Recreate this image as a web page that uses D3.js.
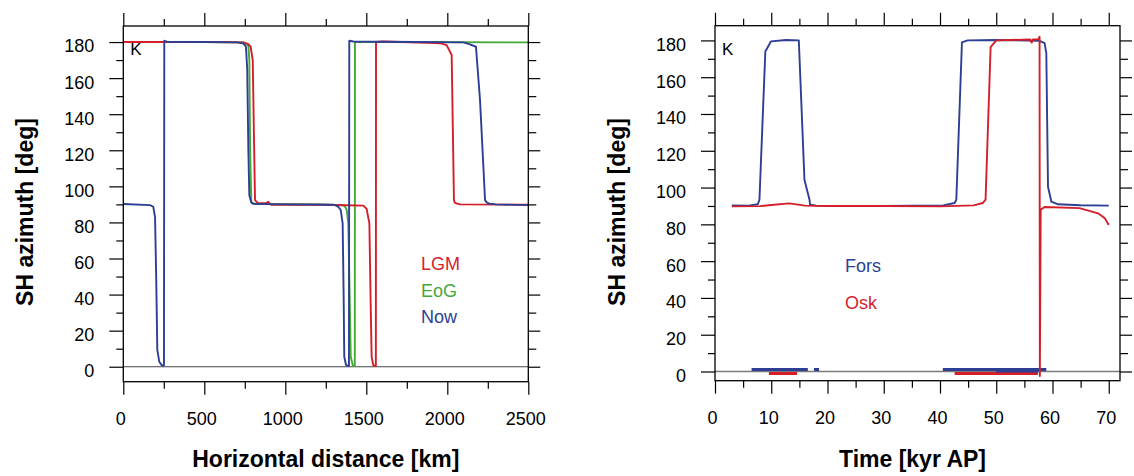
<!DOCTYPE html>
<html>
<head>
<meta charset="utf-8">
<script src="https://cdn.jsdelivr.net/npm/d3@7"></script>
<style>
	body { margin: 0; background: #fff; }
	svg { display: block; font-family: "Liberation Sans", Arial, sans-serif; }
</style>
</head>
<body>
<div id="svg-container"></div>
<script>

// DATA : left panel (horizontal distance)
const distTicks = [0, 500, 1000, 1500, 2000, 2500];
const distMinor = [250, 750, 1250, 1750, 2250];
const azTicks = [0, 20, 40, 60, 80, 100, 120, 140, 160, 180];
const azMinor = [10, 30, 50, 70, 90, 110, 130, 150, 170];

const lgmKm = [0, 500, 740, 770, 786, 799, 806, 813, 833, 880, 895, 905, 916, 1200, 1379, 1482, 1502, 1519, 1526, 1533, 1543, 1556, 1559, 1560, 1600, 1880, 1960, 1996, 2027, 2041, 2046, 2060, 2080, 2500];
const lgmDeg = [180, 180, 179.8, 179, 177.4, 170, 131, 92.4, 90.6, 90.6, 91.5, 90.2, 89.8, 89.8, 89.5, 89.3, 87.5, 79.5, 40, 5.5, 0.9, 0.4, 0.5, 180, 180.3, 179.6, 179.3, 178.3, 172.8, 92.4, 91, 90.4, 90, 89.8];

const eogKm = [0, 500, 740, 772, 778, 783, 790, 795, 820, 1200, 1360, 1369, 1379, 1389, 1397, 1404, 1416, 1426, 1429, 1430, 1700, 2500];
const eogDeg = [180, 180, 179.8, 178, 170, 120, 92, 90.8, 90.2, 90, 89.5, 88.7, 87, 79.5, 40, 5.5, 0.9, 0.4, 0.5, 180, 180, 179.8];

const nowKm = [0, 165, 185, 196, 203, 210, 222, 237, 247, 251, 253, 270, 500, 700, 740, 757, 765, 772, 778, 790, 800, 1000, 1300, 1327, 1342, 1354, 1360, 1364, 1375, 1389, 1393, 1395, 1420, 1800, 2100, 2140, 2177, 2202, 2233, 2245, 2260, 2300, 2500];
const nowDeg = [90.2, 89.6, 88.7, 82.9, 50, 9.3, 2.8, 0.9, 0.5, 0.8, 180.7, 180.2, 180, 179.8, 179.3, 177.4, 165, 120, 95, 91, 90.3, 90, 89.8, 88.7, 86.9, 79.5, 40, 5.5, 0.9, 0.4, 0.6, 180.7, 180.3, 180, 179.8, 178.7, 177.4, 147.8, 92.4, 91, 90.4, 90, 89.6];

const leftLabels = ["LGM", "EoG", "Now"];


// DATA : right panel (time)
const timeTicks = [0, 10, 20, 30, 40, 50, 60, 70];
const timeMinor = [5, 15, 25, 35, 45, 55, 65];

const forsKyr = [3, 6, 7.6, 7.9, 8.95, 9.96, 12.6, 14.9, 15.9, 16.8, 16.9, 18, 30, 40.6, 42.6, 42.9, 43.9, 44.9, 50, 57.7, 58.6, 58.9, 59.2, 59.8, 61, 65, 70];
const forsDeg = [90.3, 90.2, 90.9, 93.4, 174, 179.5, 180.2, 180, 104.3, 93.4, 90.7, 90.2, 90, 90.3, 91.6, 93.4, 178.9, 180, 180.2, 179.8, 178.5, 173, 100.4, 92.3, 90.9, 90.4, 90.2];

const oskKyr = [3, 8, 10, 13.2, 16, 20, 30, 40, 46, 47.6, 48.1, 49, 50, 56, 56.3, 56.5, 57.5, 57.7, 57.75, 57.9, 58.6, 64.8, 68.1, 69.3, 70];
const oskDeg = [89.8, 89.9, 90.5, 91.4, 90.2, 90, 90, 89.8, 90.3, 91.6, 93.4, 176.4, 180, 180.5, 178.8, 180.5, 180.7, 182, -2.5, 88, 89.4, 88.8, 86, 83.3, 79.7];

// periods near zero (start, end, level in deg)
const forsBarStart = [6.5, 17.6, 40.5, 50];
const forsBarEnd = [16.5, 18.5, 58.9, 57.5];
const forsBarLevel = [1.1, 1.1, 1.1, 0.3];
const oskBarStart = [9.6, 42.6, 50];
const oskBarEnd = [14.6, 57.4, 57];
const oskBarLevel = [-1.1, -1.1, -0.5];

const rightLabels = ["Fors", "Osk"];


// colours
const RED = "#d41f2b";
const GREEN = "#45a93a";
const BLUE = "#2c3f94";


// svg
const W = 1134;
const H = 476;
const svg = d3.select("#svg-container")
	.append("svg")
	.attr("width", W)
	.attr("height", H);
svg.append("rect").attr("width", W).attr("height", H).attr("fill", "#fff");


// PANEL
function drawPanel(p) {
	const x = d3.scaleLinear().domain(p.xDomain).range([p.x0, p.x1]);
	const y = d3.scaleLinear().domain(p.yDomain).range([p.y1, p.y0]);
	const g = svg.append("g");

	// zero line
	g.append("line")
		.attr("x1", p.x0).attr("x2", p.x1)
		.attr("y1", y(0)).attr("y2", y(0))
		.attr("stroke", p.zeroColor)
		.attr("stroke-width", p.zeroWidth);

	// axes (ticks outside on all four sides)
	const styleAxis = a => {
		a.select(".domain").remove();
		a.selectAll(".tick line").attr("stroke", "#000").attr("stroke-width", 1.2);
	};
	const noLabel = () => "";

	// bottom
	g.append("g")
		.attr("transform", `translate(0, ${p.y1})`)
		.call(d3.axisBottom(x).tickValues(p.xTicks).tickSize(13).tickFormat(d3.format("d")))
		.call(styleAxis)
		.call(a => a.selectAll(".tick text")
			.attr("y", 43.5).attr("dy", 0).attr("x", -3)
			.attr("fill", "#000").style("font-size", "18px")
			.style("font-family", "'Liberation Sans', Arial, sans-serif"));
	g.append("g")
		.attr("transform", `translate(0, ${p.y1})`)
		.call(d3.axisBottom(x).tickValues(p.xMinor).tickSize(7).tickFormat(noLabel))
		.call(styleAxis);
	// top
	g.append("g")
		.attr("transform", `translate(0, ${p.y0})`)
		.call(d3.axisTop(x).tickValues(p.xTicks).tickSize(13).tickFormat(noLabel))
		.call(styleAxis);
	g.append("g")
		.attr("transform", `translate(0, ${p.y0})`)
		.call(d3.axisTop(x).tickValues(p.xMinor).tickSize(7).tickFormat(noLabel))
		.call(styleAxis);
	// left
	g.append("g")
		.attr("transform", `translate(${p.x0}, 0)`)
		.call(d3.axisLeft(y).tickValues(azTicks).tickSize(14).tickFormat(d3.format("d")))
		.call(styleAxis)
		.call(a => a.selectAll(".tick text")
			.attr("x", -29).attr("dy", "0.55em")
			.attr("fill", "#000").style("font-size", "18px")
			.style("font-family", "'Liberation Sans', Arial, sans-serif"));
	g.append("g")
		.attr("transform", `translate(${p.x0}, 0)`)
		.call(d3.axisLeft(y).tickValues(azMinor).tickSize(7).tickFormat(noLabel))
		.call(styleAxis);
	// right
	g.append("g")
		.attr("transform", `translate(${p.x1}, 0)`)
		.call(d3.axisRight(y).tickValues(azTicks).tickSize(12).tickFormat(noLabel))
		.call(styleAxis);
	g.append("g")
		.attr("transform", `translate(${p.x1}, 0)`)
		.call(d3.axisRight(y).tickValues(azMinor).tickSize(8).tickFormat(noLabel))
		.call(styleAxis);

	// bars near zero
	const line = d3.line().x(d => x(d[0])).y(d => y(d[1]));
	p.bars.forEach(b => {
		g.selectAll(null)
			.data(d3.zip(b.start, b.end, b.level))
			.enter()
			.append("line")
			.attr("x1", d => x(d[0])).attr("x2", d => x(d[1]))
			.attr("y1", d => y(d[2])).attr("y2", d => y(d[2]))
			.attr("stroke", b.color)
			.attr("stroke-width", 3);
	});

	// series
	p.series.forEach(s => {
		g.append("path")
			.datum(d3.zip(s.xs, s.ys))
			.attr("d", line)
			.attr("fill", "none")
			.attr("stroke", s.color)
			.attr("stroke-width", 1.9)
			.attr("stroke-linejoin", "round");
	});

	// frame
	g.append("rect")
		.attr("x", p.x0).attr("y", p.y0)
		.attr("width", p.x1 - p.x0).attr("height", p.y1 - p.y0)
		.attr("fill", "none")
		.attr("stroke", "#000")
		.attr("stroke-width", 1.3);

	// panel letter
	g.append("text")
		.text("K")
		.attr("x", p.x0 + 7).attr("y", 55)
		.style("font-size", "17px");

	// legend
	g.selectAll(null)
		.data(p.legend)
		.enter()
		.append("text")
		.text(d => d.text)
		.attr("x", p.legendX)
		.attr("y", d => d.y)
		.attr("fill", d => d.color)
		.style("font-size", "18px");

	// axis titles
	g.append("text")
		.text(p.xTitle)
		.attr("x", (p.x0 + p.x1) / 2 + p.xTitleShift)
		.attr("y", 467)
		.attr("text-anchor", "middle")
		.style("font-size", "23px")
		.style("font-weight", "bold");
	g.append("text")
		.text("SH azimuth [deg]")
		.attr("text-anchor", "middle")
		.attr("transform", `translate(${p.x0 - 90}, 212) rotate(-90)`)
		.style("font-size", "23px")
		.style("font-weight", "bold");
}


// left panel
drawPanel({
	x0: 123.3, x1: 528.3, y0: 26, y1: 381.7,
	xDomain: [0, 2500], yDomain: [-8.3, 188.9],
	xTicks: distTicks, xMinor: distMinor,
	zeroColor: "#444", zeroWidth: 1.2,
	bars: [],
	series: [
		{ xs: eogKm, ys: eogDeg, color: GREEN },
		{ xs: lgmKm, ys: lgmDeg, color: RED },
		{ xs: nowKm, ys: nowDeg, color: BLUE }
	],
	legendX: 421,
	legend: [
		{ text: leftLabels[0], y: 270, color: RED },
		{ text: leftLabels[1], y: 296.5, color: GREEN },
		{ text: leftLabels[2], y: 323, color: BLUE }
	],
	xTitle: "Horizontal distance [km]", xTitleShift: 0
});

// right panel
drawPanel({
	x0: 715, x1: 1120, y0: 25.7, y1: 380.7,
	xDomain: [0, 72], yDomain: [-5, 188],
	xTicks: timeTicks, xMinor: timeMinor,
	zeroColor: "#7a7a7a", zeroWidth: 1.5,
	bars: [
		{ start: oskBarStart, end: oskBarEnd, level: oskBarLevel, color: RED },
		{ start: forsBarStart, end: forsBarEnd, level: forsBarLevel, color: BLUE }
	],
	series: [
		{ xs: forsKyr, ys: forsDeg, color: BLUE },
		{ xs: oskKyr, ys: oskDeg, color: RED }
	],
	legendX: 845,
	legend: [
		{ text: rightLabels[0], y: 272, color: BLUE },
		{ text: rightLabels[1], y: 308.5, color: RED }
	],
	xTitle: "Time [kyr AP]", xTitleShift: -5
});

</script>
</body>
</html>
